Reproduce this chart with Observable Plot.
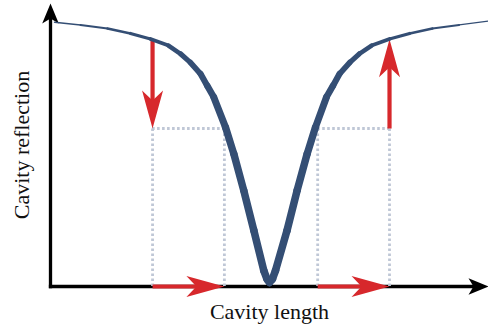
<!DOCTYPE html>
<html>
<head>
<meta charset="utf-8">
<script src="https://cdn.jsdelivr.net/npm/d3@7"></script>
<script src="https://cdn.jsdelivr.net/npm/@observablehq/plot@0.6"></script>
<style>
  html, body { margin: 0; padding: 0; background: #fff; }
  #chart svg { display: block; }
</style>
</head>
<body>
<div id="chart"></div>
<script>
// Reflection of a cavity versus its length: a narrow dip at resonance.
const cavityLength = [
  0.091, 0.685, 1.301, 1.826, 2.283, 2.694, 2.968, 3.196, 3.425, 3.578,
  3.728, 3.995, 4.185, 4.413, 4.642, 4.870, 4.943, 5.000, 5.065, 5.137,
  5.400, 5.630, 5.860, 6.050, 6.300, 6.450, 6.600, 6.830, 7.050, 7.330,
  7.740, 8.200, 8.720, 9.330, 10.000
];
const reflection = [
  0.962, 0.952, 0.939, 0.921, 0.901, 0.877, 0.847, 0.815, 0.774, 0.731,
  0.689, 0.580, 0.483, 0.349, 0.204, 0.058, 0.027, 0.015, 0.027, 0.058,
  0.204, 0.349, 0.483, 0.580, 0.689, 0.731, 0.774, 0.815, 0.847, 0.877,
  0.901, 0.921, 0.939, 0.952, 0.966
];

// Two working points, one on each flank of the dip
const lengthStart = [2.33, 6.10];
const lengthEnd = [3.97, 7.74];
const reflectionHigh = 0.9;
const reflectionLow = 0.575;

const xLabel = "Cavity length";
const yLabel = "Cavity reflection";

const xMax = 10;
const yMax = 1.03;

const curveColor = "#344e74";
const red = "#d7282c";
const guide = "#bfc7d6";

// The curve is drawn as short links so its weight can grow towards the dip.
const segments = cavityLength.slice(1).map((x, i) => ({
  x1: cavityLength[i], y1: reflection[i],
  x2: x, y2: reflection[i + 1],
  r: (reflection[i] + reflection[i + 1]) / 2
}));
const weight = r => 0.6 + 7 * (1 - Math.exp(-Math.max(0, 0.975 - r) / 0.14));

// Filled arrowhead with a notched back; tip at the origin, pointing up.
function stealth(len, half, notch) {
  return {
    draw(ctx) {
      ctx.moveTo(0, 0);
      ctx.lineTo(half, len);
      ctx.lineTo(0, len - notch);
      ctx.lineTo(-half, len);
      ctx.closePath();
    }
  };
}

const axisShafts = [
  {x1: 0, y1: 0, x2: 0, y2: yMax},
  {x1: 0, y1: 0, x2: xMax, y2: 0}
];
const axisTips = [
  {x: 0, y: yMax, rotate: 0},
  {x: xMax, y: 0, rotate: 90}
];

const redShafts = [
  {x1: lengthStart[0], y1: reflectionHigh, x2: lengthStart[0], y2: reflectionLow},
  {x1: lengthEnd[1], y1: reflectionLow, x2: lengthEnd[1], y2: reflectionHigh},
  {x1: lengthStart[0], y1: 0, x2: lengthEnd[0], y2: 0},
  {x1: lengthStart[1], y1: 0, x2: lengthEnd[1], y2: 0}
];
const redTips = [
  {x: lengthStart[0], y: reflectionLow, rotate: 180},
  {x: lengthEnd[1], y: reflectionHigh, rotate: 0},
  {x: lengthEnd[0], y: 0, rotate: 90},
  {x: lengthEnd[1], y: 0, rotate: 90}
];

const guideLengths = [...lengthStart, ...lengthEnd];
const guideSpans = lengthStart.map((s, i) => ({x1: s, x2: lengthEnd[i]}));

const chart = Plot.plot({
  width: 488,
  height: 330,
  marginLeft: 50,
  marginRight: 0,
  marginTop: 3,
  marginBottom: 44,
  x: {domain: [0, xMax], axis: null},
  y: {domain: [0, yMax], axis: null},
  style: {fontFamily: "'Liberation Serif', serif", background: "#fff"},
  marks: [
    // axes with arrowheads
    Plot.arrow(axisShafts, {
      x1: "x1", y1: "y1", x2: "x2", y2: "y2",
      stroke: "#000", strokeWidth: 3.3, headLength: 0, insetEnd: 8,
      strokeLinecap: "square"
    }),
    Plot.dot(axisTips, {
      x: "x", y: "y", rotate: "rotate", r: 1,
      symbol: stealth(20, 8.3, 5), fill: "#000", stroke: "none"
    }),
    // dotted guides
    Plot.ruleX(guideLengths, {
      y1: 0, y2: reflectionLow, stroke: guide, strokeWidth: 2.8,
      strokeDasharray: "2.6,2.4"
    }),
    Plot.ruleY(guideSpans, {
      x1: "x1", x2: "x2", y: () => reflectionLow, stroke: guide, strokeWidth: 2.8,
      strokeDasharray: "2.6,2.4"
    }),
    // red arrows
    Plot.arrow(redShafts, {
      x1: "x1", y1: "y1", x2: "x2", y2: "y2",
      stroke: red, strokeWidth: 4.2, headLength: 0, insetEnd: 20,
      strokeLinecap: "butt"
    }),
    Plot.dot(redTips, {
      x: "x", y: "y", rotate: "rotate", r: 1,
      symbol: stealth(38, 10.5, 10), fill: red, stroke: "none"
    }),
    // reflection curve
    Plot.link(segments, {
      x1: "x1", y1: "y1", x2: "x2", y2: "y2",
      stroke: curveColor, strokeWidth: d => weight(d.r),
      strokeLinecap: "round"
    }),
    // labels
    Plot.text([xLabel], {
      frameAnchor: "bottom", textAnchor: "middle", dy: 32, fontSize: 22, fill: "#111"
    }),
    Plot.text([yLabel], {
      frameAnchor: "left", textAnchor: "middle", rotate: -90, dx: -29, fontSize: 22, fill: "#111"
    })
  ]
});

document.getElementById("chart").appendChild(chart);
</script>
</body>
</html>
